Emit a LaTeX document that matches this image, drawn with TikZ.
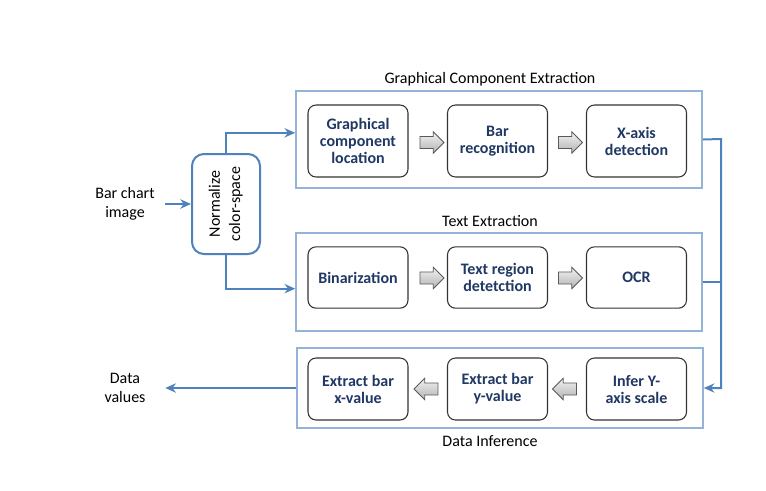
\documentclass[tikz,border=0pt]{standalone}
\usepackage{fontspec}
\setmainfont{Carlito}
\usepackage{graphicx}
\usetikzlibrary{shapes.arrows,arrows.meta}
\definecolor{linkblue}{RGB}{79,129,189}
\definecolor{groupblue}{RGB}{149,179,215}
\definecolor{labelnavy}{RGB}{31,56,100}

\begin{document}
\begin{tikzpicture}[x=0.75pt,y=-0.75pt,font=\fontsize{12}{14.4}\selectfont]
\tikzstyle{group}=[rectangle,draw=groupblue,line width=1.2pt,minimum width=304.5pt]
\tikzstyle{stage}=[rectangle,rounded corners=6pt,draw=black!80,line width=0.8pt,minimum width=75pt,align=center,text=labelnavy,font=\fontsize{12}{12.75}\selectfont\bfseries]
\tikzstyle{flow}=[single arrow,draw=black!65,line width=0.6pt,top color=gray!10,bottom color=gray!60,minimum height=18pt,single arrow head extend=3.5pt,inner sep=0pt]
\tikzstyle{link}=[draw=linkblue,line width=1.5pt,-{Stealth[length=8pt,width=7pt]}]
\tikzstyle{side}=[align=center,minimum width=60pt]
\useasboundingbox (0,0) rectangle (766,490);
% group frames
\node [group,minimum height=72.75pt] (gce) at (499,139.5) {};
\node [group,minimum height=73.5pt] (txt) at (499,282) {};
\node [group,minimum height=60pt] (inf) at (500,388) {};
\node (gcet) at (490,79) {Graphical Component Extraction};
\node (txtt) at (490,221) {Text Extraction};
\node (inft) at (490,441) {Data Inference};
% stages
\node [stage,minimum height=54pt] (loc) at (358,141) {Graphical\\component\\location};
\node [stage,minimum height=54pt] (bar) at (497.5,141) {Bar\\recognition};
\node [stage,minimum height=54pt] (xax) at (636.5,141) {X-axis\\detection};
\node [stage,minimum height=46pt] (bin) at (358,277.5) {Binarization};
\node [stage,minimum height=46pt] (reg) at (497.5,277.5) {Text region\\detetction};
\node [stage,minimum height=46pt] (ocr) at (636.5,277.5) {OCR};
\node [stage,minimum height=46.5pt] (exx) at (358,389) {Extract bar\\x-value};
\node [stage,minimum height=46.5pt] (exy) at (497.5,389) {Extract bar\\y-value};
\node [stage,minimum height=46.5pt] (ysc) at (636.5,389) {Infer Y-\\axis scale};
\node [flow] (f1) at (429,142.5) {\rule{0pt}{8.5pt}};
\node [flow] (f2) at (567.5,142.5) {\rule{0pt}{8.5pt}};
\node [flow] (f3) at (429,278) {\rule{0pt}{8.5pt}};
\node [flow] (f4) at (567.5,278) {\rule{0pt}{8.5pt}};
\node [flow,shape border rotate=180] (f5) at (429,389) {\rule{0pt}{8.5pt}};
\node [flow,shape border rotate=180] (f6) at (567.5,389) {\rule{0pt}{8.5pt}};
% input and output
\node [side] (img) at (125,204) {Bar chart\\image};
\node [draw=linkblue,line width=1.5pt,rounded corners=9pt,minimum width=51pt,minimum height=75pt] (norm) at (226,204) {\rotatebox{90}{\renewcommand{\arraystretch}{1.05}\begin{tabular}{@{}c@{}}Normalize\\color-space\end{tabular}}};
\node [side] (out) at (125,388) {Data\\values};
\coordinate (rail) at (721,139);
\draw [link] (img) -- (norm);
\draw [link] (norm.north) |- ([yshift=5pt]gce.west);
\draw [link] (norm.south) |- ([yshift=-5pt]txt.west);
\draw [link] (gce.east) -- (rail) |- (inf.east);
\draw [draw=linkblue,line width=1.5pt] (txt.east) -- (txt.east -| rail);
\draw [link] (inf) -- (out);
\end{tikzpicture}
\end{document}
